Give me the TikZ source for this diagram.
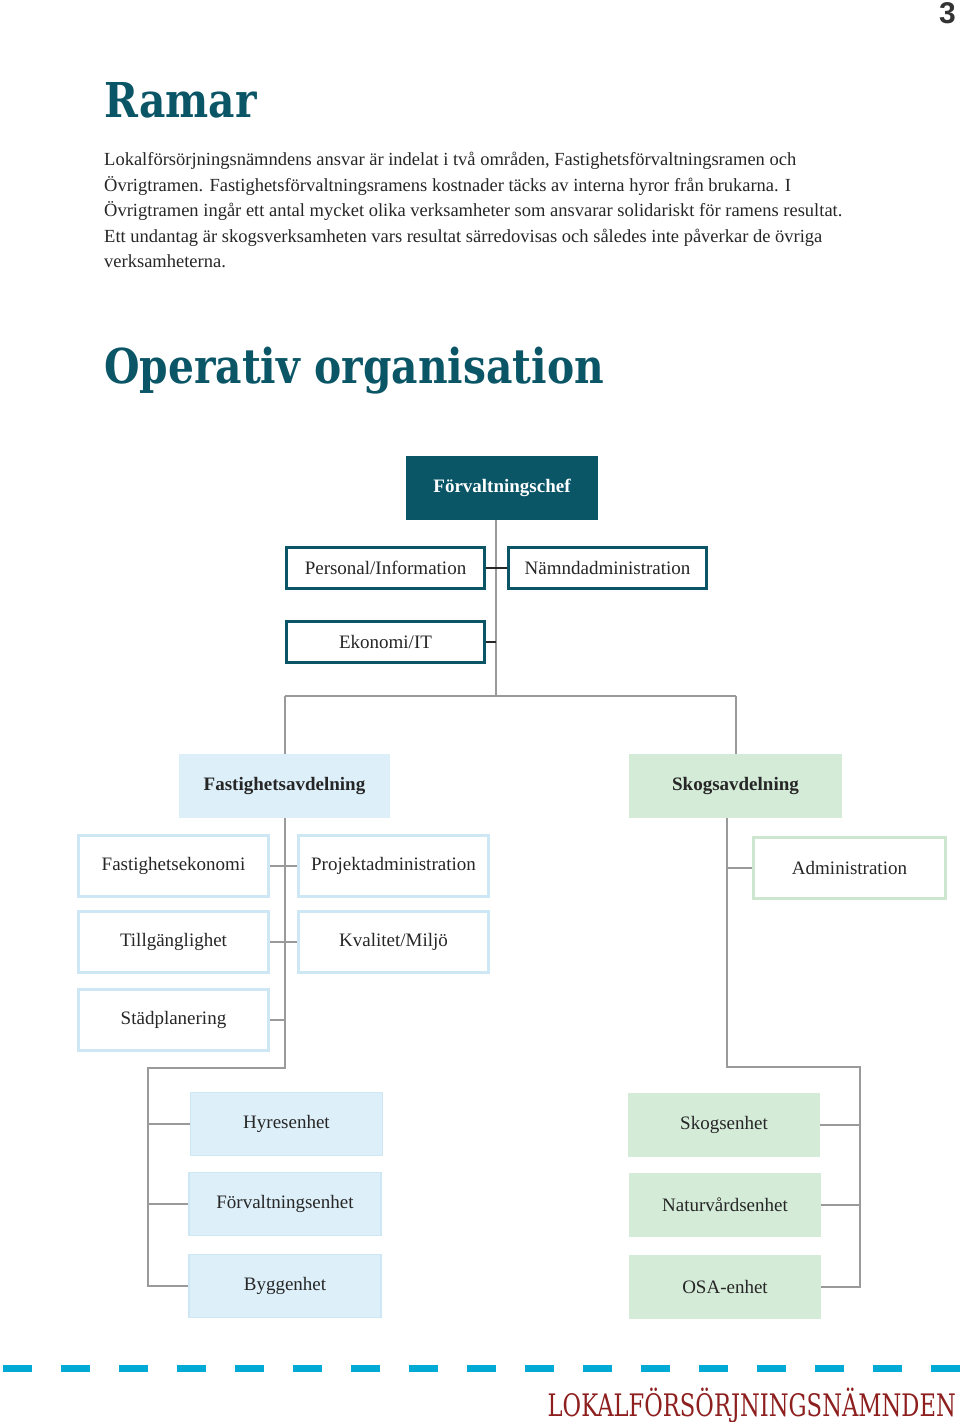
\documentclass[tikz,border=0pt]{standalone}
\usepackage{fontspec}
\setmainfont{Liberation Serif}
\newfontfamily\slabfont[FakeStretch=0.85]{DejaVu Serif}
\newfontfamily\footfont[FakeStretch=0.73]{DejaVu Serif}
\newfontfamily\numfont{Liberation Sans}
\definecolor{orgteal}{HTML}{0A5566}
\definecolor{bluefill}{HTML}{DDEFF9}
\definecolor{blueline}{HTML}{CDE7F5}
\definecolor{greenfill}{HTML}{D4EBD8}
\definecolor{greenline}{HTML}{CCE6D0}
\definecolor{linegray}{HTML}{9A9A9A}
\definecolor{dashblue}{HTML}{00AAD4}
\definecolor{footred}{HTML}{8E1F1F}
\begin{document}
\begin{tikzpicture}[x=1pt,y=-1pt]%[every node=[box]]
			\tikzstyle{conn}=[draw=linegray,line width=2pt]
			\tikzstyle{darkconn}=[draw=black!85,line width=2pt]
			\tikzstyle{box}=[rectangle,inner sep=0pt,text=black!85,font=\fontsize{19}{22}\selectfont]
			\tikzstyle{tealbox}=[box,draw=orgteal,line width=3pt,fill=white,minimum width=198pt,minimum height=41pt]
			\tikzstyle{blueunit}=[box,draw=blueline,line width=3pt,fill=white,minimum width=190pt,minimum height=61pt]
			\tikzstyle{greenunit}=[box,draw=greenline,line width=3pt,fill=white,minimum width=192pt,minimum height=61pt]
			\tikzstyle{bluedept}=[box,fill=bluefill,minimum width=211pt,minimum height=64pt,font=\bfseries\fontsize{19}{22}\selectfont]
			\tikzstyle{greendept}=[box,fill=greenfill,minimum width=213pt,minimum height=64pt,font=\bfseries\fontsize{19}{22}\selectfont]
			\tikzstyle{bluesub}=[box,fill=bluefill,draw=blueline,line width=1.5pt,minimum width=192pt,minimum height=63pt]
			\tikzstyle{greensub}=[box,fill=greenfill,minimum width=192pt,minimum height=64pt]
			\useasboundingbox (0,0) rectangle (960,1422);
			% page head
			\node[anchor=north east,inner sep=0,text=black!80,font=\numfont\bfseries\fontsize{30}{30}\selectfont] (pagenr) at (956,2) {3};
			\node[anchor=base west,inner sep=0,text=orgteal,font=\slabfont\bfseries\fontsize{48}{48}\selectfont] (ramar) at (104,117) {Ramar};
			\foreach \line [count=\i] in {{Lokalförsörjningsnämndens ansvar är indelat i två områden, Fastighetsförvaltningsramen och},
				{Övrigtramen. Fastighetsförvaltningsramens kostnader täcks av interna hyror från brukarna. I},
				{Övrigtramen ingår ett antal mycket olika verksamheter som ansvarar solidariskt för ramens resultat.},
				{Ett undantag är skogsverksamheten vars resultat särredovisas och således inte påverkar de övriga},
				{verksamheterna.}}
			{
				\node[anchor=base west,inner sep=0,text=black!85,font=\fontsize{18.5}{22}\selectfont] (body\i) at (104,{140+25.5*\i}) {\line};
			}
			\node[anchor=base west,inner sep=0,text=orgteal,font=\slabfont\bfseries\fontsize{48}{48}\selectfont] (oporg) at (104,383) {Operativ organisation};
			% top of the chart
			\node[box,fill=orgteal,text=white,minimum width=192pt,minimum height=64pt,font=\bfseries\fontsize{19}{22}\selectfont] (chef) at (502,488) {Förvaltningschef};
			\node[tealbox] (pers) at (385.5,568) {Personal/Information};
			\node[tealbox] (namnd) at (607.5,568) {Nämndadministration};
			\node[tealbox] (ekon) at (385.5,642) {Ekonomi/IT};
			% departments
			\node[bluedept] (fast) at (284.5,786) {Fastighetsavdelning};
			\node[greendept] (skog) at (735.5,786) {Skogsavdelning};
			\node[blueunit] (fekon) at (173.5,866) {Fastighetsekonomi};
			\node[blueunit] (proj) at (393.5,866) {Projektadministration};
			\node[blueunit] (till) at (173.5,942) {Tillgänglighet};
			\node[blueunit] (kval) at (393.5,942) {Kvalitet/Miljö};
			\node[blueunit] (stad) at (173.5,1020) {Städplanering};
			\node[greenunit] (admin) at (849.5,868) {Administration};
			\node[bluesub] (hyres) at (286.5,1124) {Hyresenhet};
			\node[bluesub] (forv) at (285,1204) {Förvaltningsenhet};
			\node[bluesub] (bygg) at (285,1286) {Byggenhet};
			\node[greensub] (skogs) at (724,1125) {Skogsenhet};
			\node[greensub] (natur) at (725,1205) {Naturvårdsenhet};
			\node[greensub] (osa) at (725,1287) {OSA-enhet};
			\coordinate (hub) at (496,696);
			\coordinate (fleft) at (148,1068);
			\coordinate (sspine) at (727,1067);
			\coordinate (sright) at (860,1067);
			% connectors
			\draw[conn] (hub |- chef.south) -- (hub);
			\draw[conn] (fast.north |- hub) -- (skog.north |- hub);
			\draw[conn] (fast.north |- hub) -- (fast.north);
			\draw[conn] (skog.north |- hub) -- (skog.north);
			\draw[darkconn] (pers.east) -- (namnd.west);
			\draw[darkconn] (ekon.east) -- (ekon.east -| hub);
			\draw[conn] (fast.south) -- (fast.south |- fleft) -- (fleft) -- (fleft |- bygg.west) -- (bygg.west);
			\draw[conn] (fekon.east) -- (proj.west);
			\draw[conn] (till.east) -- (kval.west);
			\draw[conn] (stad.east) -- (stad.east -| fast.south);
			\foreach \n in {hyres,forv}
			{
				\draw[conn] (fleft |- \n.west) -- (\n.west);
			}
			\draw[conn] (sspine |- skog.south) -- (sspine) -- (sright) -- (sright |- osa.east) -- (osa.east);
			\draw[conn] (sspine |- admin.west) -- (admin.west);
			\foreach \n in {skogs,natur}
			{
				\draw[conn] (\n.east) -- (\n.east -| sright);
			}
			% page foot
			\foreach \i in {0,...,16}
			{
				\draw[dashblue,line width=7pt] ({3+58*\i},1368) -- ({32+58*\i},1368);
			}
			\node[anchor=base east,inner sep=0,text=footred,font=\footfont\fontsize{31}{31}\selectfont] (footer) at (956,1416) {LOKALFÖRSÖRJNINGSNÄMNDEN};
\end{tikzpicture}
\end{document}
